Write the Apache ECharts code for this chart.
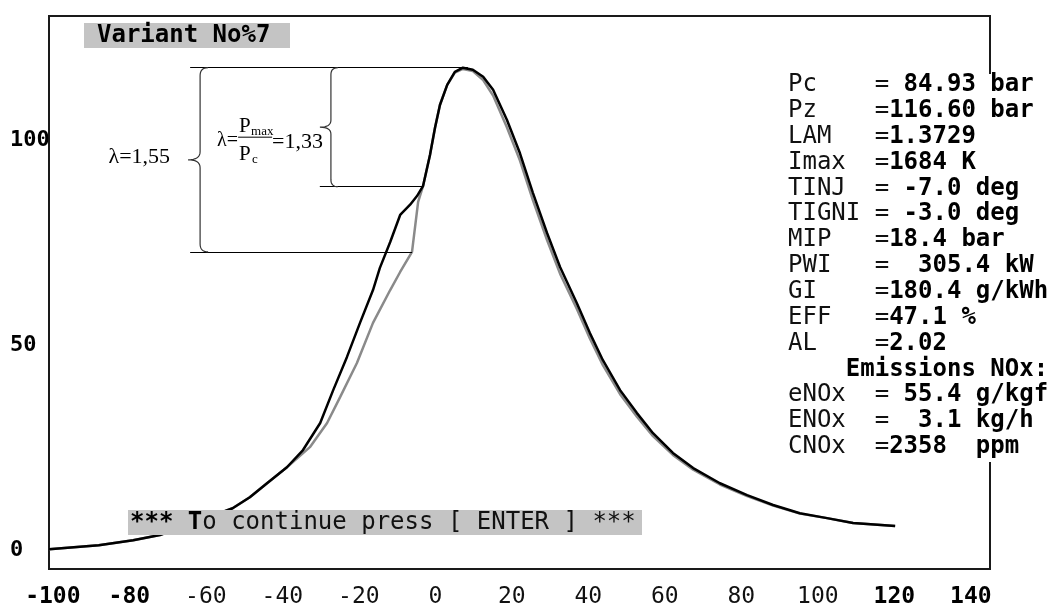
<!DOCTYPE html>
<html><head><meta charset="utf-8">
<script src="https://cdn.jsdelivr.net/npm/echarts@6/dist/echarts.min.js"></script>
<style>html,body{margin:0;padding:0;background:#fff}#c{width:1055px;height:609px}</style>
</head><body><div id="c"></div>
<script>
// ---- data ----
const blackAngle = [-101,-88,-79,-72,-63,-53,-48.5,-44,-38.8,-34.6,-30.1,-26.7,-23.1,-19.7,-16.3,-14.5,-11.8,-9.2,-6.6,-4.8,-3.2,-1.4,-0.1,1.2,3.1,5.1,7.2,9.8,12.5,15.1,18.7,22.1,25.5,29.2,32.6,37.0,40.4,43.8,48.3,52.7,56.9,62.1,67.4,74.4,81.5,88.3,95.3,102.4,109.2,120.2];
const blackPressure = [0.2,1.2,2.4,3.7,6.7,10.2,12.9,16.3,20.2,24.4,31.0,39.0,47.1,55.4,63.4,68.8,75.1,81.7,84.2,86.3,88.8,96.3,102.9,108.5,113.4,116.6,117.6,117.1,115.4,112.2,104.9,96.8,87.1,77.3,69.0,60.2,52.9,46.3,39.0,33.4,28.5,23.7,20.0,16.3,13.4,11.0,9.0,7.8,6.6,5.9];
const grayAngle = [-101,-88,-79,-72,-63,-53,-48.5,-44,-38.8,-32.8,-28.3,-24.9,-20.5,-16.3,-11.8,-9.2,-6.1,-4.5,-3.2,-1.4,-0.1,1.2,3.1,5.1,7.2,9.8,12.5,15.1,18.7,22.1,25.5,29.2,32.6,37.0,40.4,43.8,48.3,52.7,56.9,62.1,67.4,74.4,81.5,88.3,95.3,102.4,109.2,120.2];
const grayPressure = [0.2,1.2,2.4,3.7,6.7,10.2,12.9,16.3,20.2,25.1,31.0,37.3,45.6,55.4,63.4,67.8,72.7,84.9,88.8,96.3,102.9,108.5,113.4,116.4,117.3,116.8,114.6,110.8,103.1,95.0,85.3,75.6,67.4,58.8,51.6,45.1,38.0,32.5,27.8,23.2,19.6,16.0,13.2,10.85,8.9,7.8,6.6,5.9];

const xTickLabels = [-100,-80,-60,-40,-20,0,20,40,60,80,100,120,140];
const xBoldTicks = [-100,-80,120,140];
const yTickLabels = [0,50,100];

// reference levels (Pmax, Pmax/1.33, Pmax/1.55) and their spans in degrees
const refLineY = [117.6, 88.6, 72.7];
const refLineFrom = [-64.1, -30.2, -64.1];
const refLineTo = [8.5, -3.2, -6.1];

const panelLabels = ['Pc','Pz','LAM','Imax','TINJ','TIGNI','MIP','PWI','GI','EFF','AL','','eNOx','ENOx','CNOx'];
const panelValues = [' 84.93 bar','116.60 bar','1.3729','1684 K',' -7.0 deg',' -3.0 deg','18.4 bar','  305.4 kW','180.4 g/kWh','47.1 %','2.02','',' 55.4 g/kgf','  3.1 kg/h','2358  ppm'];
const emissionsTitle = '    Emissions NOx:';

// ---- chart ----
const MONO = '"DejaVu Sans Mono", monospace';
const SERIF = '"Liberation Serif", "DejaVu Serif", serif';
const chart = echarts.init(document.getElementById('c'), null, {renderer: 'canvas'});

function pairs(a, b) { return a.map((x, i) => [x, b[i]]); }

chart.setOption({
  animation: false,
  backgroundColor: '#fff',
  grid: {left: 49, right: 65, top: 16, bottom: 40, show: true, borderColor: '#1a1a1a', borderWidth: 2, outerBoundsMode: 'none', containLabel: false},
  xAxis: {
    type: 'value', min: -101, max: 145,
    axisLine: {show: false}, axisTick: {show: false}, splitLine: {show: false},
    axisLabel: {
      customValues: xTickLabels, margin: 17, color: '#000', fontFamily: MONO, fontSize: 23,
      formatter: v => (xBoldTicks.indexOf(v) >= 0 ? '{b|' + v + '}' : '{n|' + v + '}'),
      rich: {
        b: {fontFamily: MONO, fontSize: 23, fontWeight: 'bold', color: '#000'},
        n: {fontFamily: MONO, fontSize: 23, fontWeight: 'normal', color: '#111'}
      }
    }
  },
  yAxis: {
    type: 'value', min: -4.6, max: 130.2,
    axisLine: {show: false}, axisTick: {show: false}, splitLine: {show: false},
    axisLabel: {customValues: yTickLabels, align: 'left', margin: 39, color: '#000', fontFamily: MONO, fontSize: 22, fontWeight: 'bold'}
  },
  series: [
    {type: 'line', data: pairs(grayAngle, grayPressure), showSymbol: false, smooth: false,
     lineStyle: {color: '#8a8a8a', width: 2.5}, z: 2},
    {type: 'line', data: pairs(blackAngle, blackPressure), showSymbol: false, smooth: false,
     lineStyle: {color: '#000', width: 2.5}, z: 3,
     markLine: {silent: true, symbol: ['none', 'none'], label: {show: false},
       lineStyle: {color: '#000', width: 1, type: 'solid'},
       data: refLineY.map((y, i) => [{coord: [refLineFrom[i], y]}, {coord: [refLineTo[i], y]}])}
    }
  ]
});

// ---- overlays (texts, braces, panel) ----
function px(x, y) { return chart.convertToPixel({gridIndex: 0}, [x, y]); }
function quad(p0, c, p1, out) {
  for (let t = 0; t <= 1.0001; t += 0.125) {
    const a = (1 - t) * (1 - t), b = 2 * (1 - t) * t, d = t * t;
    out.push([a * p0[0] + b * c[0] + d * p1[0], a * p0[1] + b * c[1] + d * p1[1]]);
  }
}
function brace(xp, yTop, yBot, tipW, armW) {
  const mid = (yTop + yBot) / 2, pts = [];
  quad([xp + armW, yTop], [xp, yTop], [xp, yTop + armW], pts);
  quad([xp, mid - armW], [xp, mid], [xp - tipW, mid], pts);
  quad([xp - tipW, mid], [xp, mid], [xp, mid + armW], pts);
  quad([xp, yBot - armW], [xp, yBot], [xp + armW, yBot], pts);
  return pts;
}

const yTopPx = px(0, refLineY[0])[1];
const yMidPx = px(0, refLineY[1])[1];
const yLowPx = px(0, refLineY[2])[1];
const b1x = px(-61.5, 0)[0];
const b2x = px(-27.3, 0)[0];

const g = [];
// braces
g.push({type: 'polyline', z: 50, shape: {points: brace(b1x, yTopPx, yLowPx, 12, 8)}, style: {stroke: '#333', lineWidth: 1.2, fill: null}});
g.push({type: 'polyline', z: 50, shape: {points: brace(b2x, yTopPx, yMidPx, 11, 7)}, style: {stroke: '#333', lineWidth: 1.2, fill: null}});
// lambda texts
const tip1y = (yTopPx + yLowPx) / 2;
g.push({type: 'text', z: 50, x: b1x - 30, y: tip1y - 3, style: {text: 'λ=1,55', fill: '#000', fontFamily: SERIF, fontSize: 22, align: 'right', verticalAlign: 'middle'}});
const fy = (yTopPx + yMidPx) / 2 + 14;
const fx = b1x + 38;
g.push({type: 'text', z: 50, x: fx, y: fy, style: {text: 'λ=', fill: '#000', fontFamily: SERIF, fontSize: 20, align: 'right', verticalAlign: 'middle'}});
g.push({type: 'text', z: 50, x: fx + 1, y: fy - 15, style: {text: 'P', fill: '#000', fontFamily: SERIF, fontSize: 21, align: 'left', verticalAlign: 'middle'}});
g.push({type: 'text', z: 50, x: fx + 13, y: fy - 10, style: {text: 'max', fill: '#000', fontFamily: SERIF, fontSize: 13, align: 'left', verticalAlign: 'middle'}});
g.push({type: 'line', z: 50, shape: {x1: fx, y1: fy - 4, x2: fx + 34, y2: fy - 4}, style: {stroke: '#000', lineWidth: 1}});
g.push({type: 'text', z: 50, x: fx + 1, y: fy + 13, style: {text: 'P', fill: '#000', fontFamily: SERIF, fontSize: 21, align: 'left', verticalAlign: 'middle'}});
g.push({type: 'text', z: 50, x: fx + 14, y: fy + 18, style: {text: 'c', fill: '#000', fontFamily: SERIF, fontSize: 13, align: 'left', verticalAlign: 'middle'}});
g.push({type: 'text', z: 50, x: fx + 34, y: fy + 1, style: {text: '=1,33', fill: '#000', fontFamily: SERIF, fontSize: 22, align: 'left', verticalAlign: 'middle'}});

// Variant box
g.push({type: 'rect', z: 60, shape: {x: 84, y: 23, width: 206, height: 25}, style: {fill: '#c4c4c4'}});
g.push({type: 'text', z: 61, x: 97, y: 36, style: {text: 'Variant No%7', fill: '#000', fontFamily: MONO, fontSize: 24, fontWeight: 'bold', align: 'left', verticalAlign: 'middle'}});

// Continue banner
g.push({type: 'rect', z: 60, shape: {x: 128, y: 510, width: 514, height: 25}, style: {fill: '#c4c4c4'}});
g.push({type: 'text', z: 61, x: 130, y: 523, style: {
  text: '{b|*** T}{n|o continue press [ ENTER ] ***}', align: 'left', verticalAlign: 'middle',
  rich: {
    b: {fontFamily: MONO, fontSize: 24, fontWeight: 'bold', fill: '#000'},
    n: {fontFamily: MONO, fontSize: 24, fontWeight: 'normal', fill: '#111'}
  }}});

// Right parameter panel
g.push({type: 'rect', z: 70, shape: {x: 778, y: 74, width: 277, height: 388}, style: {fill: '#fff'}});
const richPanel = {
  n: {fontFamily: MONO, fontSize: 24, fontWeight: 'normal', fill: '#111'},
  b: {fontFamily: MONO, fontSize: 24, fontWeight: 'bold', fill: '#000'}
};
panelLabels.forEach((lab, i) => {
  const y = 85 + i * 25.85;
  let txt;
  if (lab === '') txt = '{b|' + emissionsTitle + '}';
  else txt = '{n|' + lab.padEnd(6, ' ') + '=}{b|' + panelValues[i] + '}';
  g.push({type: 'text', z: 71, x: 788, y: y, style: {text: txt, align: 'left', verticalAlign: 'middle', rich: richPanel}});
});

chart.setOption({graphic: g});
</script>
</body></html>
